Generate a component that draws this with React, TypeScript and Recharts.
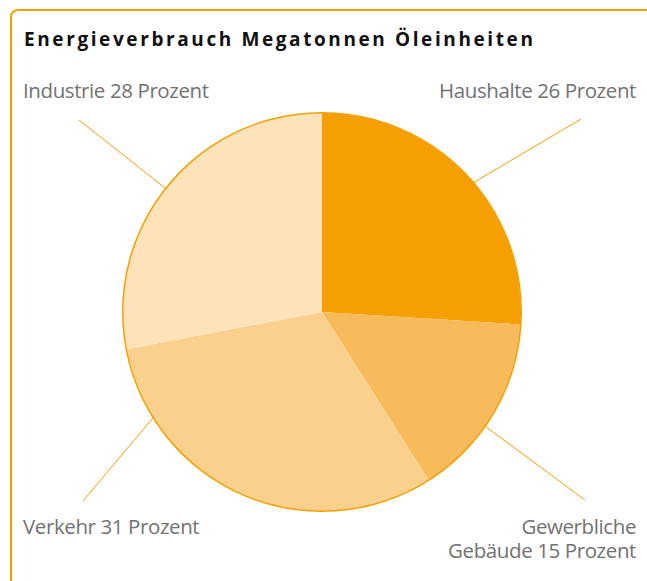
import React from "react";
import { PieChart, Pie, Cell } from "recharts";

const categories = ["Haushalte", "Gewerbliche Gebäude", "Verkehr", "Industrie"];
const shares = [26, 15, 31, 28];
const labelLines = [
  ["Haushalte 26 Prozent"],
  ["Gewerbliche", "Gebäude 15 Prozent"],
  ["Verkehr 31 Prozent"],
  ["Industrie 28 Prozent"],
];
const colors = ["#F5A000", "#F7BB5B", "#FAD08D", "#FDE2BA"];

const data = categories.map((name, i) => ({ name, value: shares[i] }));

// where each label sits and how its leader line runs
const labelLayout = [
  { anchor: "end", tx: 636, ty: 98, lx: 581, ly: 119, angleShift: -2.7 },
  { anchor: "end", tx: 636, ty: 534, lx: 585, ly: 500, angleShift: -4.4 },
  { anchor: "start", tx: 23, ty: 534, lx: 83, ly: 501, angleShift: -34.6 },
  { anchor: "start", tx: 23, ty: 98, lx: 79, ly: 120, angleShift: 1.3 },
];

const RADIAN = Math.PI / 180;
const ORANGE = "#F5A000";

const renderLabel = (props: any) => {
  const { cx, cy, midAngle, outerRadius, index } = props;
  const l = labelLayout[index];
  const a = (midAngle + l.angleShift) * RADIAN;
  const sx = cx + outerRadius * Math.cos(a);
  const sy = cy - outerRadius * Math.sin(a);
  return (
    <g key={`lbl-${index}`}>
      <line x1={sx} y1={sy} x2={l.lx} y2={l.ly} stroke={ORANGE} strokeWidth={1} />
      <text
        x={l.tx}
        y={l.ty}
        textAnchor={l.anchor as any}
        fill="#727272"
        fontSize={20.5}
        fontFamily="'Open Sans', sans-serif"
        letterSpacing={-0.4}
      >
        {labelLines[index].map((t, j) => (
          <tspan key={j} x={l.tx} dy={j === 0 ? 0 : 24}>
            {t}
          </tspan>
        ))}
      </text>
    </g>
  );
};

const App = () => {
  return (
    <div
      style={{
        position: "absolute",
        left: 0,
        top: 0,
        width: 647,
        height: 581,
        overflow: "hidden",
        background: "#fff",
      }}
    >
      <div
        style={{
          position: "absolute",
          left: 10,
          top: 9,
          width: 660,
          height: 600,
          border: `2px solid ${ORANGE}`,
          borderTopLeftRadius: 8,
          boxSizing: "border-box",
        }}
      />
      <div
        style={{
          position: "absolute",
          left: 24,
          top: 30,
          fontFamily: "'Open Sans', sans-serif",
          fontWeight: 700,
          fontSize: 19,
          lineHeight: "19px",
          letterSpacing: 2.6,
          color: "#111",
          whiteSpace: "nowrap",
        }}
      >
        Energieverbrauch Megatonnen Öleinheiten
      </div>
      <div style={{ position: "absolute", left: 0, top: 0 }}>
        <PieChart width={647} height={581} margin={{ top: 0, right: 0, bottom: 0, left: 0 }}>
          <Pie
            data={data}
            dataKey="value"
            nameKey="name"
            cx={322}
            cy={312}
            outerRadius={199}
            startAngle={90}
            endAngle={-270}
            stroke="none"
            label={renderLabel}
            labelLine={false}
            isAnimationActive={false}
          >
            {data.map((d, i) => (
              <Cell key={`cell-${i}`} fill={colors[i]} />
            ))}
          </Pie>
          <Pie
            data={[{ name: "rand", value: 1 }]}
            dataKey="value"
            cx={322}
            cy={312}
            innerRadius={198.5}
            outerRadius={200}
            startAngle={90}
            endAngle={-270}
            fill={ORANGE}
            stroke="none"
            isAnimationActive={false}
          />
        </PieChart>
      </div>
    </div>
  );
};

export default App;
